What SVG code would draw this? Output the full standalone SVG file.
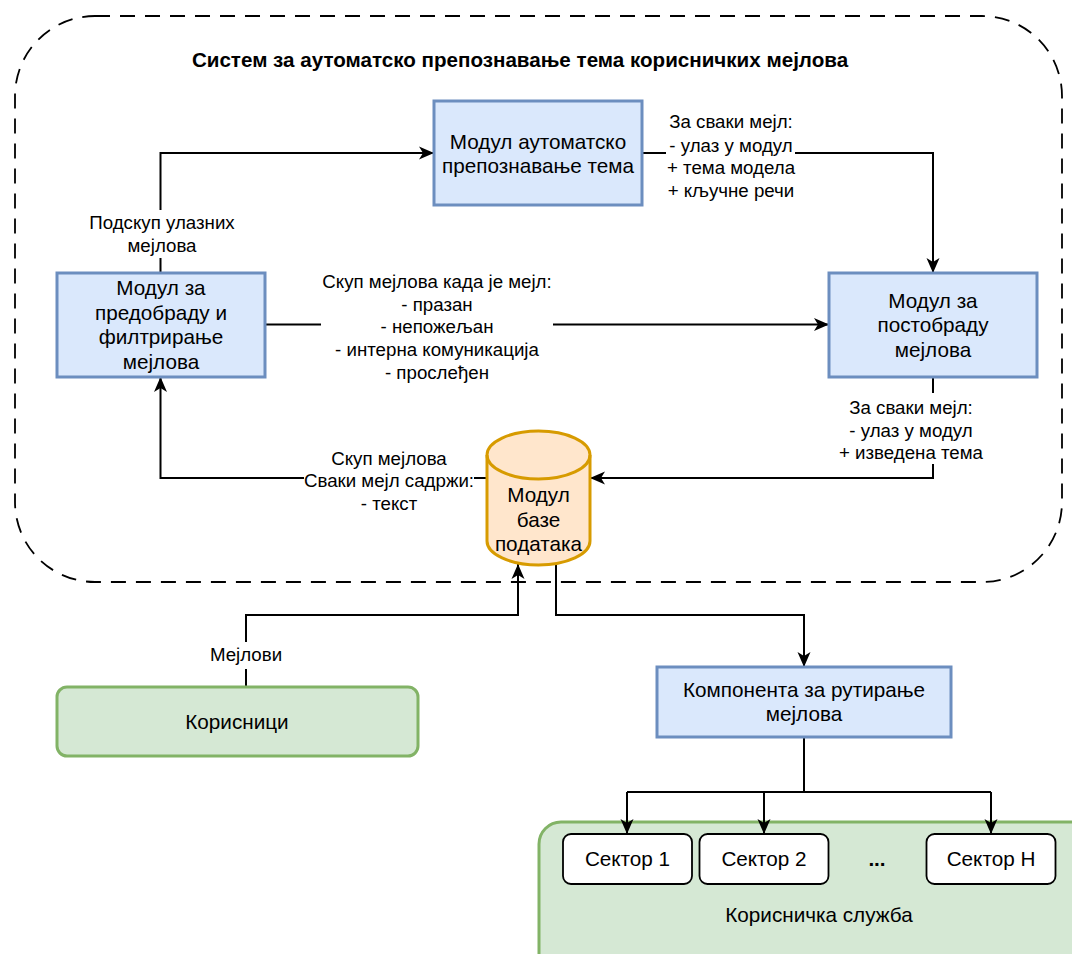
<svg xmlns="http://www.w3.org/2000/svg" width="1072" height="954" viewBox="0 0 1072 954">
<style>
text{font-family:"Liberation Sans",Arial,sans-serif;fill:#000;text-anchor:middle}
.n{font-size:20.7px}
.l{font-size:18.7px}
.t{font-size:20.6px;font-weight:bold}
.blue{fill:#dae8fc;stroke:#6c8ebf;stroke-width:3}
.green{fill:#d5e8d4;stroke:#82b366;stroke-width:3}
.orange{fill:#ffe6cc;stroke:#d79b00;stroke-width:3}
.white{fill:#fff;stroke:#000;stroke-width:1.8}
.e{fill:none;stroke:#000;stroke-width:2}
.ea{fill:none;stroke:#000;stroke-width:2;marker-end:url(#arr)}
</style>
<defs>
<marker id="arr" markerUnits="userSpaceOnUse" markerWidth="16" markerHeight="14" refX="15" refY="7" orient="auto" overflow="visible">
<path d="M0,0.5 L15,7 L0,13.5 L4,7 Z" fill="#000"/>
</marker>
</defs>
<g id="system">
<rect x="15" y="16" width="1047" height="566" rx="80" ry="80" fill="none" stroke="#000" stroke-width="1.8" stroke-dasharray="15 10"/>
<text class="t" x="520" y="67">Систем за аутоматско препознавање тема корисничких мејлова</text>
</g>
<g id="support">
<rect x="539" y="822" width="560" height="160" rx="22" ry="22" class="green"/>
<text class="n" x="819" y="922">Корисничка служба</text>
</g>
<g id="connectors">
<path class="ea" d="M160.5,273 V258 M160.5,210 V153 H434"/>
<path class="ea" d="M265,324.5 H321 M553,324.5 H829"/>
<path class="ea" d="M642,153 H666 M795,153 H933 V273"/>
<path class="ea" d="M933,377 V393 M933,464 V478 H590"/>
<path class="ea" d="M487,478 H474 M304,478 H160.5 V377"/>
<path class="ea" d="M246,687 V669 M246,642 V615 H518 V564"/>
<path class="ea" d="M556,564 V615 H804 V667"/>
<path class="e" d="M804,737 V792 M627,792 H991"/>
<path class="ea" d="M627,792 V834"/>
<path class="ea" d="M764,792 V834"/>
<path class="ea" d="M991,792 V834"/>
<text class="l"><tspan x="162" y="229">Подскуп улазних</tspan><tspan x="162" y="252">мејлова</tspan></text>
<text class="l"><tspan x="437" y="288">Скуп мејлова када је мејл:</tspan><tspan x="437" y="311">- празан</tspan><tspan x="437" y="333">- непожељан</tspan><tspan x="437" y="356">- интерна комуникација</tspan><tspan x="437" y="379">- прослеђен</tspan></text>
<text class="l"><tspan x="731" y="128">За сваки мејл:</tspan><tspan x="731" y="152">- улаз у модул</tspan><tspan x="731" y="174">+ тема модела</tspan><tspan x="731" y="197">+ кључне речи</tspan></text>
<text class="l"><tspan x="911" y="414">За сваки мејл:</tspan><tspan x="911" y="437">- улаз у модул</tspan><tspan x="911" y="459">+ изведена тема</tspan></text>
<text class="l"><tspan x="389" y="465">Скуп мејлова</tspan><tspan x="389" y="487">Сваки мејл садржи:</tspan><tspan x="389" y="510">- текст</tspan></text>
<text class="l" x="246" y="661">Мејлови</text>
</g>
<g id="auto">
<rect x="434" y="101" width="208" height="104" class="blue"/>
<text class="n"><tspan x="538" y="148.5">Модул аутоматско</tspan><tspan x="538" y="173">препознавање тема</tspan></text>
</g>
<g id="pre">
<rect x="57" y="273" width="208" height="104" class="blue"/>
<text class="n"><tspan x="161" y="295">Модул за</tspan><tspan x="161" y="319.5">предобраду и</tspan><tspan x="161" y="344">филтрирање</tspan><tspan x="161" y="368.5">мејлова</tspan></text>
</g>
<g id="post">
<rect x="829" y="273" width="208" height="104" class="blue"/>
<text class="n"><tspan x="933" y="307.5">Модул за</tspan><tspan x="933" y="332">постобраду</tspan><tspan x="933" y="356.5">мејлова</tspan></text>
</g>
<g id="db">
<path class="orange" d="M487,455 A51.5,24 0 0 1 590,455 V541 A51.5,24 0 0 1 487,541 Z"/>
<path d="M487,455 A51.5,24 0 0 0 590,455" fill="none" stroke="#d79b00" stroke-width="3"/>
<text class="n"><tspan x="538.5" y="502">Модул</tspan><tspan x="538.5" y="527">базе</tspan><tspan x="538.5" y="551">података</tspan></text>
</g>
<g id="router">
<rect x="657" y="667" width="294" height="70" class="blue"/>
<text class="n"><tspan x="804" y="697">Компонента за рутирање</tspan><tspan x="804" y="721">мејлова</tspan></text>
</g>
<g id="users">
<rect x="57" y="687" width="361" height="69" rx="10" ry="10" class="green"/>
<text class="n" x="237" y="729">Корисници</text>
</g>
<g id="sector1">
<rect x="563" y="834" width="129" height="50" rx="8" ry="8" class="white"/>
<text class="n" x="627.5" y="866">Сектор 1</text>
</g>
<g id="sector2">
<rect x="699.5" y="834" width="129" height="50" rx="8" ry="8" class="white"/>
<text class="n" x="764" y="866">Сектор 2</text>
</g>
<g id="dots">
<text class="n" x="877" y="866" style="font-weight:bold">...</text>
</g>
<g id="sectorN">
<rect x="926.5" y="834" width="129" height="50" rx="8" ry="8" class="white"/>
<text class="n" x="991" y="866">Сектор Н</text>
</g>
</svg>
